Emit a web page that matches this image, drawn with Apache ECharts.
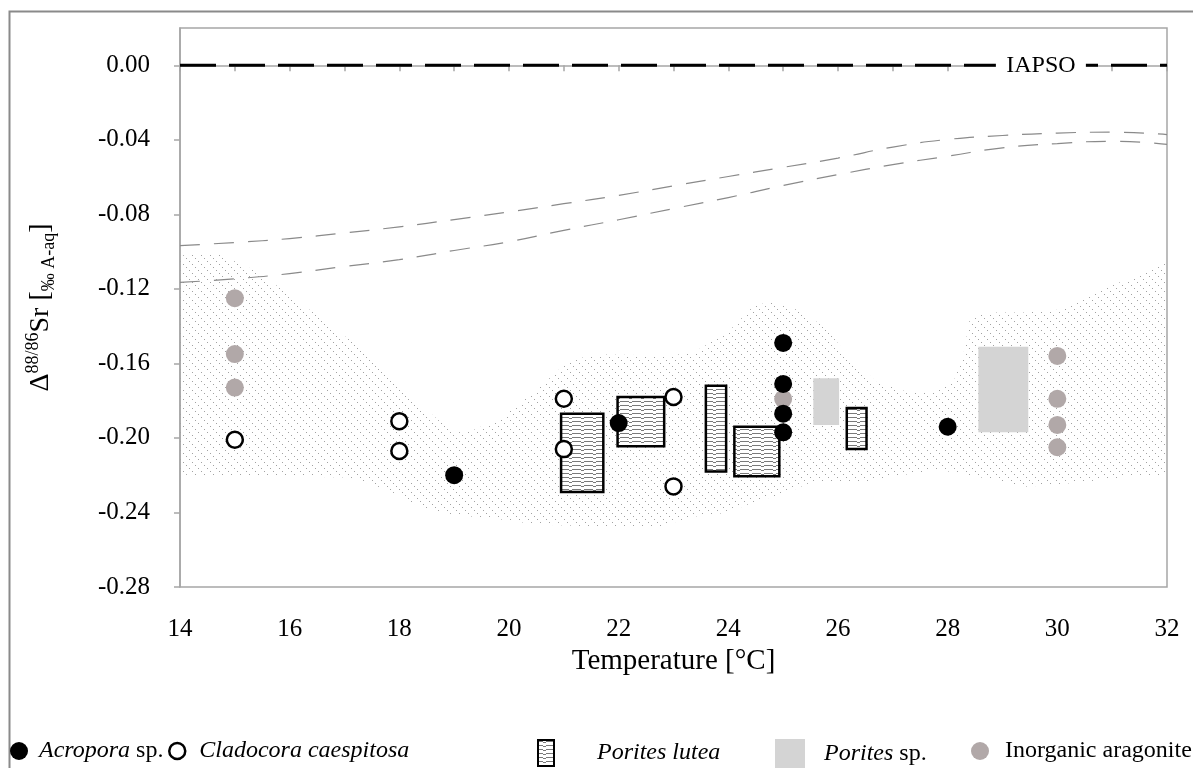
<!DOCTYPE html>
<html><head><meta charset="utf-8">
<script src="https://cdn.jsdelivr.net/npm/echarts@6/dist/echarts.min.js"></script>
<style>html,body{margin:0;padding:0;background:#fff}#c{width:1193px;height:768px}</style>
</head><body><div id="c"></div>
<script>
// ---- data ----
const acropora = [[19,-0.220],[22,-0.192],[25,-0.149],[25,-0.171],[25,-0.187],[25,-0.197],[28,-0.194]];
const cladocora = [[15,-0.201],[18,-0.191],[18,-0.207],[21,-0.179],[21,-0.206],[23,-0.178],[23,-0.226]];
const inorganic = [[15,-0.125],[15,-0.155],[15,-0.173],[25,-0.179],[30,-0.156],[30,-0.179],[30,-0.193],[30,-0.205]];
// [tMin, tMax, dHigh, dLow]
const poritesLutea = [[20.95,21.72,-0.187,-0.229],[21.98,22.83,-0.178,-0.2045],[23.59,23.96,-0.172,-0.218],[24.11,24.93,-0.194,-0.2205],[26.16,26.52,-0.184,-0.206]];
const poritesSp = [[25.55,26.02,-0.168,-0.193],[28.56,29.47,-0.151,-0.197]];
const curveTemps = [14,15,16,17,18,19,20,21,22,23,24,25,26,27,28,29,30,31,32];
const curveUpper = [-0.0968,-0.0951,-0.0930,-0.0900,-0.0867,-0.0828,-0.0787,-0.0743,-0.0698,-0.0647,-0.0597,-0.0548,-0.0498,-0.0439,-0.0398,-0.0377,-0.0364,-0.0359,-0.0372];
const curveLower = [-0.1165,-0.1146,-0.1118,-0.1080,-0.1043,-0.0994,-0.0947,-0.0886,-0.0829,-0.0769,-0.0710,-0.0645,-0.0587,-0.0533,-0.0488,-0.0443,-0.0420,-0.0408,-0.0425];
const bandTop = [[14.00,-0.1021],[14.64,-0.1005],[15.33,-0.1096],[15.95,-0.1220],[16.55,-0.1354],[17.16,-0.1488],[17.78,-0.1671],[18.38,-0.1821],[18.98,-0.1971],[19.29,-0.1966],[19.89,-0.1886],[20.51,-0.1741],[21.11,-0.1579],[21.71,-0.1552],[22.94,-0.1558],[23.36,-0.1542],[23.98,-0.1435],[24.45,-0.1295],[24.76,-0.1268],[25.36,-0.1322],[25.80,-0.1418],[26.09,-0.1526],[26.71,-0.1703],[27.31,-0.1756],[27.73,-0.1756],[28.10,-0.1703],[28.28,-0.1563],[28.41,-0.1349],[28.83,-0.1327],[29.45,-0.1327],[30.05,-0.1311],[30.65,-0.1220],[31.27,-0.1150],[31.69,-0.1096],[32.00,-0.1059]];
const bandBottom = [[32.00,-0.2208],[31.27,-0.2208],[30.36,-0.2240],[29.45,-0.2262],[28.83,-0.2224],[27.81,-0.2170],[27.00,-0.2208],[26.40,-0.2240],[25.49,-0.2240],[25.07,-0.2294],[24.45,-0.2347],[23.98,-0.2401],[23.36,-0.2423],[22.75,-0.2476],[21.71,-0.2476],[20.51,-0.2465],[19.89,-0.2439],[18.98,-0.2412],[18.38,-0.2369],[17.78,-0.2278],[17.10,-0.2213],[16.24,-0.2208],[14.00,-0.2197]];
const iapsoValue = 0;
const iapsoLabelAt = 29.7;
const seriesNames = ['Acropora sp.','Cladocora caespitosa','Porites lutea','Porites sp.','Inorganic aragonite'];

// ---- patterns ----
function hatchPattern(){
  const c=document.createElement('canvas'); c.width=9; c.height=9;
  const g=c.getContext('2d'); g.fillStyle='#a2a2a2';
  for(let i=0;i<9;i+=3) g.fillRect(i,i,1,1);
  return c;
}
function wavePattern(){
  const c=document.createElement('canvas'); c.width=12; c.height=4;
  const g=c.getContext('2d'); g.fillStyle='#fff'; g.fillRect(0,0,12,4);
  g.fillStyle='#7a7a7a'; g.fillRect(0,1,5,1); g.fillRect(5,2,3,1); g.fillRect(8,1,4,1);
  return c;
}
const hatch={image:hatchPattern(),repeat:'repeat'};
const wave={image:wavePattern(),repeat:'repeat'};

const serif='Liberation Serif';
const chart=echarts.init(document.getElementById('c'),null,{renderer:'canvas'});

function boxRender(fill, stroke, lw){
  return function(params, api){
    const p0=api.coord([api.value(0), api.value(2)]);
    const p1=api.coord([api.value(1), api.value(3)]);
    return {type:'rect', shape:{x:p0[0], y:p0[1], width:p1[0]-p0[0], height:p1[1]-p0[1]},
      style:{fill:fill, stroke:stroke, lineWidth:lw}};
  };
}

const LF=24;
function legendItem(name, left, icon, w, h, itemStyle, fmt, pad){
  return {data:[{name:name, icon:icon, itemStyle:itemStyle}], left:left, top:734, itemWidth:w, itemHeight:h, itemGap:0,
    selectedMode:false,
    formatter: fmt,
    textStyle:{fontFamily:serif, fontSize:LF, color:'#000', padding:[0,0,0,pad],
      rich:{i:{fontFamily:serif,fontSize:LF,fontStyle:'italic',color:'#000'}, n:{fontFamily:serif,fontSize:LF,color:'#000'}}}};
}

const option={
  animation:false,
  backgroundColor:'#fff',
  graphic:[{type:'rect', shape:{x:9.5,y:11.5,width:1300,height:900}, style:{fill:'none', stroke:'#8a8a8a', lineWidth:2}, silent:true}],
  grid:{left:180, right:26, top:28, bottom:181, show:true, borderColor:'#a6a6a6', borderWidth:1.5, backgroundColor:'transparent'},
  legend:[
    legendItem(seriesNames[0], 5, 'circle', 18, 18, {color:'#000'}, ()=>'{i|Acropora}{n| sp.}', 6),
    legendItem(seriesNames[1], 163, 'circle', 16, 16, {color:'#fff', borderColor:'#000', borderWidth:2.5}, ()=>'{i|Cladocora caespitosa}', 9),
    legendItem(seriesNames[2], 532, 'rect', 16, 26, {color:wave, borderColor:'#000', borderWidth:2}, ()=>'{i|Porites lutea}', 38),
    legendItem(seriesNames[3], 770, 'rect', 30, 30, {color:'#d4d4d4', borderWidth:0}, ()=>'{i|Porites}{n| sp.}', 14),
    legendItem(seriesNames[4], 966, 'circle', 18, 18, {color:'#b1a8a8'}, ()=>'{n|Inorganic aragonite}', 11)
  ],
  xAxis:{type:'value', min:14, max:32, interval:2,
    axisLine:{show:true, lineStyle:{color:'#a6a6a6', width:1.5}},
    axisTick:{show:true, length:6, lineStyle:{color:'#a6a6a6', width:1.5}},
    minorTick:{show:true, splitNumber:2, length:6, lineStyle:{color:'#a6a6a6', width:1.5}},
    splitLine:{show:false},
    axisLabel:{fontFamily:serif, fontSize:25, color:'#000', margin:30},
    name:'Temperature [°C]', nameLocation:'middle', nameGap:58,
    nameTextStyle:{fontFamily:serif, fontSize:29, color:'#000'}},
  yAxis:{type:'value', min:-0.28, max:0.02, interval:0.04,
    axisLine:{show:true, lineStyle:{color:'#a6a6a6', width:1.5}},
    axisTick:{show:true, length:6, lineStyle:{color:'#a6a6a6', width:1.5}},
    splitLine:{show:false},
    axisLabel:{fontFamily:serif, fontSize:25, color:'#000', margin:30, showMaxLabel:false,
      formatter:v=>Math.abs(v)<1e-9?'0.00':v.toFixed(2)},
    name:'{d|Δ}{sup|88/86}{d|Sr [}{sub|‰ A-aq}{d|]}', nameLocation:'middle', nameGap:122, nameRotate:90,
    nameTextStyle:{rich:{
      d:{fontFamily:serif, fontSize:28, color:'#000', lineHeight:34},
      sup:{fontFamily:serif, fontSize:18, color:'#000', verticalAlign:'top', lineHeight:34, padding:[0,0,12,0]},
      sub:{fontFamily:serif, fontSize:18, color:'#000', verticalAlign:'bottom', lineHeight:34, padding:[6,0,0,0]}
    }}},
  series:[
    {type:'custom', name:'band', coordinateSystem:'cartesian2d', silent:true, z:1,
      data:[[14,-0.1]],
      renderItem:function(params, api){
        const pts=bandTop.concat(bandBottom).map(p=>api.coord(p));
        return {type:'polygon', shape:{points:pts}, style:{fill:hatch, stroke:null}};
      }},
    {type:'line', name:'upper', data:curveTemps.map((t,i)=>[t,curveUpper[i]]), smooth:true, symbol:'none', z:2,
      lineStyle:{color:'#8a8a8a', width:1.2, type:[20,14]}},
    {type:'line', name:'lower', data:curveTemps.map((t,i)=>[t,curveLower[i]]), smooth:true, symbol:'none', z:2,
      lineStyle:{color:'#8a8a8a', width:1.2, type:[20,14]}},
    {type:'line', name:'IAPSO', data:[[14,iapsoValue],[32,iapsoValue]], symbol:'none', z:3,
      lineStyle:{color:'#000', width:3, type:[36,13]},
      markPoint:{symbol:'rect', symbolSize:[90,26], itemStyle:{color:'#fff'}, silent:true,
        label:{show:true, formatter:'IAPSO', color:'#000', fontFamily:serif, fontSize:24},
        data:[{coord:[iapsoLabelAt, iapsoValue]}]}},
    {type:'custom', name:seriesNames[3], coordinateSystem:'cartesian2d', z:3, data:poritesSp,
      itemStyle:{color:'#d4d4d4'}, encode:{x:[0,1], y:[2,3]},
      renderItem:boxRender('#d4d4d4', null, 0)},
    {type:'custom', name:seriesNames[2], coordinateSystem:'cartesian2d', z:4, data:poritesLutea,
      itemStyle:{color:'#777'}, encode:{x:[0,1], y:[2,3]},
      renderItem:boxRender(wave, '#000', 2.5)},
    {type:'scatter', name:seriesNames[4], data:inorganic, symbol:'circle', symbolSize:18, z:5,
      itemStyle:{color:'#b1a8a8', opacity:1}},
    {type:'scatter', name:seriesNames[1], data:cladocora, symbol:'circle', symbolSize:16, z:6,
      itemStyle:{color:'#fff', borderColor:'#000', borderWidth:2.5, opacity:1}},
    {type:'scatter', name:seriesNames[0], data:acropora, symbol:'circle', symbolSize:18, z:6,
      itemStyle:{color:'#000', opacity:1}}
  ]
};
chart.setOption(option);
</script>
</body></html>
